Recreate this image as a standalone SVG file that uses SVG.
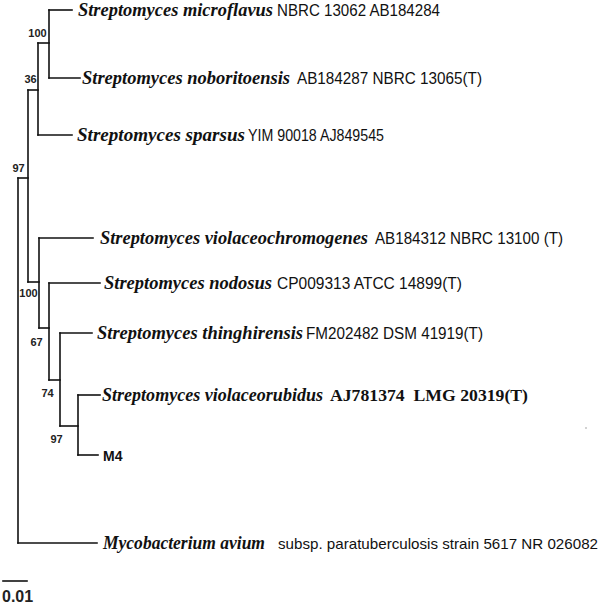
<svg xmlns="http://www.w3.org/2000/svg" width="607" height="606" viewBox="0 0 607 606">
<style>
.br{fill:none;stroke:#111;stroke-width:1.6;stroke-linecap:square}
.bs{font-family:"Liberation Sans",Arial,sans-serif;font-weight:bold;font-size:11px;fill:#222;text-anchor:middle}
.it{font-family:"Liberation Serif","Times New Roman",serif;font-style:italic;font-weight:bold;font-size:18px;fill:#111}
.nm{font-family:"Liberation Sans",Arial,sans-serif;font-size:16px;fill:#111}
.sb{font-family:"Liberation Serif","Times New Roman",serif;font-weight:bold;font-size:17px;fill:#111}
.m4{font-family:"Liberation Sans",Arial,sans-serif;font-weight:bold;font-size:14px;fill:#111}
</style>
<rect width="607" height="606" fill="#fff"/>
<g id="connectors">
<path class="br" d="M18 178 V543"/>
<path class="br" d="M18 178 H28"/>
<path class="br" d="M28 90 V282"/>
<path class="br" d="M28 90 H38"/>
<path class="br" d="M38 43 V135"/>
<path class="br" d="M38 43 H49"/>
<path class="br" d="M49 10 V78"/>
<path class="br" d="M28 282 H39"/>
<path class="br" d="M39 238 V328"/>
<path class="br" d="M39 328 H49"/>
<path class="br" d="M49 283 V380"/>
<path class="br" d="M49 380 H60"/>
<path class="br" d="M60 333 V426"/>
<path class="br" d="M60 426 H78"/>
<path class="br" d="M78 395 V455"/>
<path class="br" d="M49 10 H72"/>
<path class="br" d="M49 78 H80"/>
<path class="br" d="M38 135 H72"/>
<path class="br" d="M39 238 H93"/>
<path class="br" d="M49 283 H100"/>
<path class="br" d="M60 333 H92"/>
<path class="br" d="M78 395 H100"/>
<path class="br" d="M78 455 H98"/>
<path class="br" d="M18 543 H97"/>
</g>
<g id="bootstrap">
<text class="bs" x="37.5" y="37">100</text>
<text class="bs" x="30.5" y="83">36</text>
<text class="bs" x="18.5" y="172">97</text>
<text class="bs" x="28.5" y="297">100</text>
<text class="bs" x="36.5" y="346">67</text>
<text class="bs" x="47.5" y="397">74</text>
<text class="bs" x="56.5" y="443">97</text>
</g>
<g id="leaf-microflavus">
<text class="it" x="78" y="16" textLength="195" lengthAdjust="spacingAndGlyphs">Streptomyces microflavus</text>
<text class="nm" x="277" y="16" textLength="163" lengthAdjust="spacingAndGlyphs">NBRC 13062 AB184284</text>
</g>
<g id="leaf-noboritoensis">
<text class="it" x="82" y="84" textLength="208" lengthAdjust="spacingAndGlyphs">Streptomyces noboritoensis</text>
<text class="nm" x="297" y="84" textLength="185" lengthAdjust="spacingAndGlyphs">AB184287 NBRC 13065(T)</text>
</g>
<g id="leaf-sparsus">
<text class="it" x="77" y="141" textLength="168" lengthAdjust="spacingAndGlyphs">Streptomyces sparsus</text>
<text class="nm" x="248" y="141" textLength="136" lengthAdjust="spacingAndGlyphs">YIM 90018 AJ849545</text>
</g>
<g id="leaf-violaceochromogenes">
<text class="it" x="100" y="244" textLength="268" lengthAdjust="spacingAndGlyphs">Streptomyces violaceochromogenes</text>
<text class="nm" x="375" y="244" textLength="188" lengthAdjust="spacingAndGlyphs">AB184312 NBRC 13100 (T)</text>
</g>
<g id="leaf-nodosus">
<text class="it" x="104" y="289" textLength="168" lengthAdjust="spacingAndGlyphs">Streptomyces nodosus</text>
<text class="nm" x="277" y="289" textLength="185" lengthAdjust="spacingAndGlyphs">CP009313 ATCC 14899(T)</text>
</g>
<g id="leaf-thinghirensis">
<text class="it" x="97" y="339" textLength="206" lengthAdjust="spacingAndGlyphs">Streptomyces thinghirensis</text>
<text class="nm" x="306" y="339" textLength="177" lengthAdjust="spacingAndGlyphs">FM202482 DSM 41919(T)</text>
</g>
<g id="leaf-violaceorubidus">
<text class="it" x="102" y="401" textLength="221" lengthAdjust="spacingAndGlyphs">Streptomyces violaceorubidus</text>
<text class="sb" x="330" y="401" textLength="198" lengthAdjust="spacingAndGlyphs" xml:space="preserve">AJ781374  LMG 20319(T)</text>
</g>
<g id="leaf-M4">
<text class="m4" x="103" y="461">M4</text>
</g>
<g id="leaf-mycobacterium">
<text class="it" x="103" y="549" textLength="162" lengthAdjust="spacingAndGlyphs">Mycobacterium avium</text>
<text class="nm" x="278" y="549" style="font-size:14.5px" textLength="320" lengthAdjust="spacingAndGlyphs">subsp. paratuberculosis strain 5617 NR 026082</text>
</g>
<g id="scale">
<path class="br" d="M3 581 H27"/>
<text x="2" y="602" style="font-family:'Liberation Sans',Arial,sans-serif;font-weight:bold;font-size:16px;fill:#222">0.01</text>
</g>
<circle cx="586" cy="428" r="0.8" fill="#999"/>
</svg>
